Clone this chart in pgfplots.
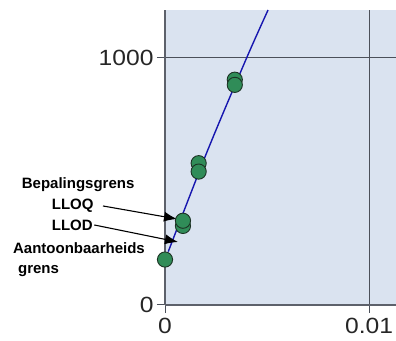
\documentclass[border=0pt]{standalone}
\usepackage{pgfplots}
\pgfplotsset{compat=1.18}
\usepackage{fontspec}
\setmainfont{Liberation Sans}
\newfontfamily\tickfont{Liberation Sans}[FakeStretch=1.12]
\usetikzlibrary{arrows.meta}
\definecolor{bgcol}{RGB}{218,227,240}
\definecolor{gridcol}{RGB}{75,80,90}
\definecolor{ptfill}{RGB}{48,140,88}
\definecolor{ptdraw}{RGB}{28,50,36}
\definecolor{linecol}{RGB}{22,22,175}
\begin{document}
\begin{tikzpicture}
\begin{axis}[
  scale only axis,
  width=231pt, height=295pt,
  xmin=0, xmax=0.01132, ymin=0, ymax=1194,
  axis lines=left,
  axis line style={-, draw=gridcol!90, line width=1.4pt},
  axis background/.style={fill=bgcol},
  xtick={0,0.01}, xticklabels={0,0.01},
  ytick={0,1000}, yticklabels={0,1000},
  scaled x ticks=false, scaled y ticks=false,
  tick align=outside,
  major tick length=8pt,
  tick style={draw=gridcol, line width=1pt},
  grid=major,
  major grid style={draw=gridcol, line width=1.1pt},
  tick label style={font=\fontsize{22}{26}\selectfont\tickfont, text=black!85},
  xticklabel style={yshift=-2pt},
  clip=false,
]
\addplot[linecol, line width=1.4pt, smooth] coordinates {
  (0.00016,216) (0.0021,628) (0.0040,1000) (0.00505,1194)
};
\addplot[only marks, mark=*, mark size=7.6pt,
  mark options={fill=ptfill, draw=ptdraw, line width=0.9pt}] coordinates {
  (0.0,184)
  (0.00088,320) (0.00088,341)
  (0.00165,574) (0.00165,540)
  (0.00342,912) (0.00342,891)
};
\begin{scope}[font=\fontsize{15}{17}\selectfont\bfseries, inner sep=0pt]
\node[anchor=base west] at (axis cs:-0.007025,472.5) {Bepalingsgrens};
\node[anchor=base west] at (axis cs:-0.005554,384.6) {LLOQ};
\node[anchor=base west] at (axis cs:-0.005554,300.8) {LLOD};
\node[anchor=base west] at (axis cs:-0.007451,209.3) {Aantoonbaarheids};
\node[anchor=base west] at (axis cs:-0.007206,125.5) {grens};
\end{scope}
\draw[black, line width=1.1pt, -{Latex[length=13pt,width=10pt]}] (axis cs:-0.003039,400.8) -- (axis cs:0.000588,348.2);
\draw[black, line width=1.1pt, -{Latex[length=13pt,width=10pt]}] (axis cs:-0.003466,323.9) -- (axis cs:0.000637,255.1);
\coordinate (bl) at (rel axis cs:-0.71429,-0.12203);
\coordinate (tr) at (rel axis cs:1,1.0339);
\end{axis}
\pgfresetboundingbox
\path (bl) rectangle (tr);
\end{tikzpicture}
\end{document}
